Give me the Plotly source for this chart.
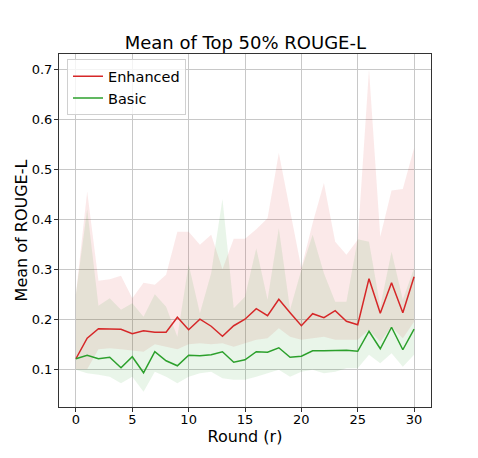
import plotly.graph_objects as go

rounds = list(range(31))

enhanced_mean = [0.121, 0.162, 0.181, 0.180, 0.180, 0.171, 0.177, 0.174, 0.174, 0.204,
                 0.179, 0.200, 0.186, 0.166, 0.187, 0.200, 0.221, 0.207, 0.240, 0.213,
                 0.187, 0.211, 0.203, 0.217, 0.196, 0.189, 0.281, 0.212, 0.273, 0.213, 0.285]
enhanced_upper = [0.25, 0.455, 0.277, 0.280, 0.287, 0.242, 0.273, 0.269, 0.289, 0.375,
                  0.375, 0.349, 0.369, 0.300, 0.361, 0.361, 0.380, 0.402, 0.532, 0.415,
                  0.302, 0.392, 0.472, 0.355, 0.329, 0.359, 0.699, 0.365, 0.457, 0.460, 0.542]
enhanced_lower = [0.100, 0.100, 0.140, 0.142, 0.140, 0.138, 0.135, 0.150, 0.145, 0.140,
                  0.150, 0.152, 0.150, 0.152, 0.145, 0.152, 0.159, 0.162, 0.182, 0.165,
                  0.159, 0.162, 0.165, 0.159, 0.159, 0.159, 0.179, 0.155, 0.185, 0.162, 0.195]

basic_mean = [0.121, 0.128, 0.121, 0.124, 0.103, 0.125, 0.093, 0.135, 0.117, 0.107,
              0.128, 0.127, 0.129, 0.135, 0.114, 0.119, 0.135, 0.134, 0.143, 0.124,
              0.126, 0.137, 0.137, 0.138, 0.138, 0.136, 0.176, 0.141, 0.184, 0.139, 0.180]
basic_upper = [0.25, 0.420, 0.227, 0.242, 0.219, 0.232, 0.205, 0.250, 0.225, 0.165,
               0.310, 0.212, 0.292, 0.440, 0.222, 0.245, 0.342, 0.239, 0.382, 0.219,
               0.299, 0.369, 0.292, 0.235, 0.235, 0.360, 0.355, 0.225, 0.335, 0.239, 0.302]
basic_lower = [0.099, 0.092, 0.089, 0.085, 0.072, 0.085, 0.055, 0.095, 0.085, 0.072,
               0.085, 0.092, 0.095, 0.082, 0.079, 0.079, 0.085, 0.092, 0.099, 0.085,
               0.095, 0.099, 0.092, 0.095, 0.102, 0.102, 0.129, 0.112, 0.132, 0.105, 0.129]

x_ticks = [0, 5, 10, 15, 20, 25, 30]
y_ticks = [0.1, 0.2, 0.3, 0.4, 0.5, 0.6, 0.7]

RED = "#d62728"
GREEN = "#2ca02c"
FONT = "DejaVu Sans"

fig = go.Figure()

for upper, lower, fillc in [(enhanced_upper, enhanced_lower, "rgba(214,39,40,0.1)"),
                            (basic_upper, basic_lower, "rgba(44,160,44,0.1)")]:
    fig.add_trace(go.Scatter(x=rounds, y=upper, mode="lines", line=dict(width=0),
                             showlegend=False, hoverinfo="skip"))
    fig.add_trace(go.Scatter(x=rounds, y=lower, mode="lines", line=dict(width=0),
                             fill="tonexty", fillcolor=fillc,
                             showlegend=False, hoverinfo="skip"))

fig.add_trace(go.Scatter(x=rounds, y=enhanced_mean, mode="lines", name="Enhanced",
                         line=dict(color=RED, width=1.5)))
fig.add_trace(go.Scatter(x=rounds, y=basic_mean, mode="lines", name="Basic",
                         line=dict(color=GREEN, width=1.5)))

axis_common = dict(showline=True, linecolor="#333333", linewidth=1, mirror=True,
                   ticks="outside", ticklen=4, tickcolor="#333333",
                   showgrid=True, gridcolor="#c8c8c8", gridwidth=1, zeroline=False,
                   automargin=False,
                   tickfont=dict(family=FONT, size=13, color="black"))

fig.update_xaxes(range=[-1.5, 31.5], tickvals=x_ticks, ticklabelstandoff=-4,
                 title=dict(text="Round (r)", font=dict(family=FONT, size=16, color="black"),
                            standoff=2),
                 **axis_common)
fig.update_yaxes(range=[0.0246, 0.73], tickvals=y_ticks, ticktext=[f"{v:.1f}" for v in y_ticks],
                 ticklabelstandoff=-1,
                 title=dict(text="Mean of ROUGE-L", font=dict(family=FONT, size=16, color="black"),
                            standoff=0),
                 **axis_common)

# page body adds an 8px offset, so the figure is 470x450 placed at (8, 8)
fig.update_layout(
    width=470, height=450, autosize=False,
    margin=dict(l=51, r=47, t=46, b=51, pad=0),
    paper_bgcolor="white", plot_bgcolor="white",
    title=dict(text="Mean of Top 50% ROUGE-L", x=0.505, xanchor="center",
               y=1 - 35 / 450, yanchor="middle", yref="container",
               font=dict(family=FONT, size=18, color="black")),
    legend=dict(x=0.0215, y=0.985, xanchor="left", yanchor="top", traceorder="normal",
                bgcolor="rgba(255,255,255,0.8)", bordercolor="#d0d0d0", borderwidth=1,
                font=dict(family=FONT, size=14.5, color="black"), itemwidth=30,
                tracegroupgap=0),
)

fig.write_html("out.html")
